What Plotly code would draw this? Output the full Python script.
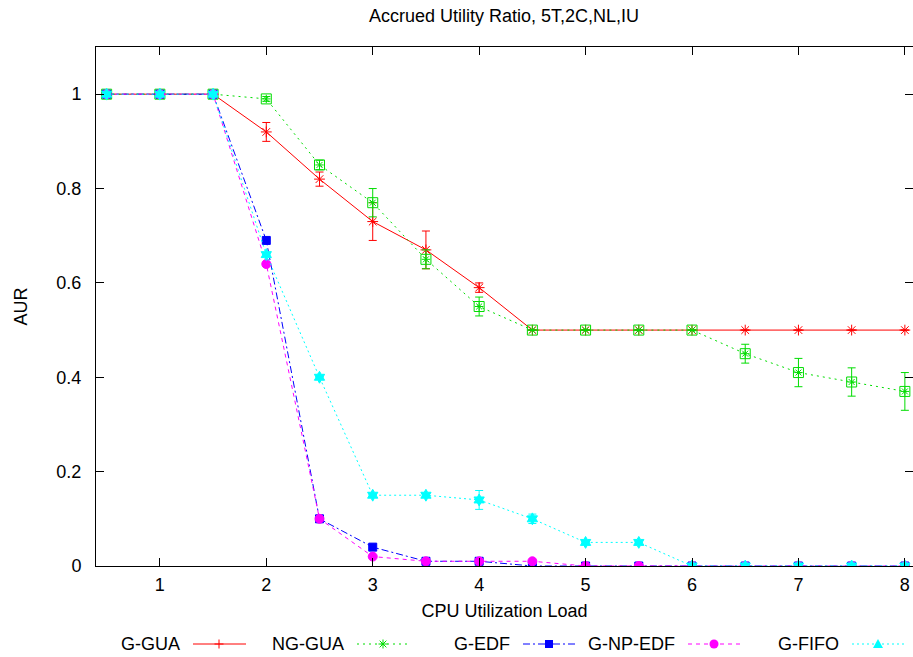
import plotly.graph_objects as go

# ---------------- data ----------------
load = [0.5, 1, 1.5, 2, 2.5, 3, 3.5, 4, 4.5, 5, 5.5, 6, 6.5, 7, 7.5, 8]

g_gua = [1, 1, 1, 0.92, 0.82, 0.73, 0.67, 0.59, 0.5, 0.5, 0.5, 0.5, 0.5, 0.5, 0.5, 0.5]
g_gua_err = [None, None, None, 0.02, 0.015, 0.04, 0.04, 0.01, None, None, None, None, None, None, None, None]

ng_gua = [1, 1, 1, 0.99, 0.85, 0.77, 0.65, 0.55, 0.5, 0.5, 0.5, 0.5, 0.45, 0.41, 0.39, 0.37]
ng_gua_err = [None, None, None, 0.005, 0.01, 0.03, 0.02, 0.02, None, None, None, None, 0.02, 0.03, 0.03, 0.04]

g_edf = [1, 1, 1, 0.69, 0.10, 0.04, 0.01, 0.01, 0, 0, 0, 0, 0, 0, 0, 0]
g_np_edf = [1, 1, 1, 0.64, 0.10, 0.02, 0.01, 0.01, 0.01, 0, 0, 0, 0, 0, 0, 0]

g_fifo = [1, 1, 1, 0.66, 0.40, 0.15, 0.15, 0.14, 0.10, 0.05, 0.05, 0, 0, 0, 0, 0]
g_fifo_err = [None, None, None, None, None, None, None, 0.02, 0.01, None, None, None, None, None, None, None]

x_ticks = [1, 2, 3, 4, 5, 6, 7, 8]
y_ticks = [0, 0.2, 0.4, 0.6, 0.8, 1]
y_tick_text = ["0", "0.2", "0.4", "0.6", "0.8", "1"]

names = ["G-GUA", "NG-GUA", "G-EDF", "G-NP-EDF", "G-FIFO"]
colors = ["#ff0000", "#00dd00", "#0000ff", "#ff00ff", "#00ffff"]
dashes = ["solid", "2px,4px", "7px,3px,2px,3px", "4px,4px", "2px,3px"]

FONT = "Liberation Sans, Arial, Helvetica, sans-serif"

# ---------------- layout geometry (pixels) ----------------
W, H = 913, 657
L, R, T, B = 96, 913, 47, 566


def px(xp):
    return (xp - L) / (R - L)


def py(yp):
    return (B - yp) / (B - T)


fig = go.Figure()

series = [
    (g_gua, g_gua_err, "asterisk-open", 9),
    (ng_gua, ng_gua_err, "square-open", 10),
    (g_edf, None, "square", 8),
    (g_np_edf, None, "circle", 9),
    (g_fifo, g_fifo_err, "hexagram", 9),
]

for i, (vals, err, sym, size) in enumerate(series):
    c = colors[i]
    tr = dict(
        x=load, y=vals, mode="lines+markers", name=names[i],
        line=dict(color=c, width=1, dash=dashes[i]),
        marker=dict(symbol=sym, size=size, color=c, line=dict(color=c, width=1)),
        showlegend=False,
    )
    if err is not None:
        tr["error_y"] = dict(type="data", array=err, visible=True, color=c,
                             thickness=1, width=4)
    fig.add_trace(go.Scatter(**tr))
    if i == 1:
        # inner asterisk of the NG-GUA point style
        fig.add_trace(go.Scatter(x=load, y=vals, mode="markers", showlegend=False,
                                 marker=dict(symbol="asterisk-open", size=7,
                                             color=c, line=dict(color=c, width=1))))

# ---------------- custom legend (text left of sample, gnuplot style) ----------------
shapes = []
annotations = []
text_right = [182, 346, 512, 677, 841]
ly = 644
for i, tx in enumerate(text_right):
    c = colors[i]
    annotations.append(dict(x=px(tx), y=py(ly), xref="paper", yref="paper",
                            text=names[i], showarrow=False, xanchor="right",
                            yanchor="middle", font=dict(family=FONT, size=18, color="black")))
    x0, x1 = tx + 11, tx + 64
    shapes.append(dict(type="line", xref="paper", yref="paper",
                       x0=px(x0), x1=px(x1), y0=py(ly), y1=py(ly),
                       line=dict(color=c, width=1, dash=dashes[i])))
    mx = tx + 37
    s = 4.5
    if i == 0:
        shapes.append(dict(type="line", xref="paper", yref="paper", x0=px(mx - s), x1=px(mx + s),
                           y0=py(ly), y1=py(ly), line=dict(color=c, width=1)))
        shapes.append(dict(type="line", xref="paper", yref="paper", x0=px(mx), x1=px(mx),
                           y0=py(ly - s), y1=py(ly + s), line=dict(color=c, width=1)))
    elif i == 1:
        for (dx, dy) in [(s, 0), (0, s), (s * 0.75, s * 0.75), (s * 0.75, -s * 0.75)]:
            shapes.append(dict(type="line", xref="paper", yref="paper",
                               x0=px(mx - dx), x1=px(mx + dx), y0=py(ly - dy), y1=py(ly + dy),
                               line=dict(color=c, width=1)))
    elif i == 2:
        shapes.append(dict(type="rect", xref="paper", yref="paper", x0=px(mx - 4), x1=px(mx + 4),
                           y0=py(ly + 4), y1=py(ly - 4), fillcolor=c, line=dict(color=c, width=0)))
    elif i == 3:
        shapes.append(dict(type="circle", xref="paper", yref="paper", x0=px(mx - 4.5), x1=px(mx + 4.5),
                           y0=py(ly + 4.5), y1=py(ly - 4.5), fillcolor=c, line=dict(color=c, width=0)))
    else:
        path = "M {} {} L {} {} L {} {} Z".format(px(mx - 5), py(ly + 4), px(mx + 5), py(ly + 4),
                                                  px(mx), py(ly - 5))
        shapes.append(dict(type="path", xref="paper", yref="paper", path=path,
                           fillcolor=c, line=dict(color=c, width=0)))

fig.update_layout(
    width=W, height=H,
    margin=dict(l=L, r=W - R, t=T, b=H - B, pad=0),
    paper_bgcolor="white", plot_bgcolor="white",
    font=dict(family=FONT, size=18, color="black"),
    title=dict(text="Accrued Utility Ratio, 5T,2C,NL,IU", x=px(504), xref="paper",
               y=1 - 16 / H, yref="container", xanchor="center", yanchor="middle",
               font=dict(family=FONT, size=18, color="black")),
    xaxis=dict(range=[0.4, 0.4 + (R - L) / 106.43], tickvals=x_ticks, ticks="inside",
               ticklen=8, tickcolor="black", tickwidth=1, showline=True, linecolor="black",
               linewidth=1, mirror="ticks", showgrid=False, zeroline=False,
               ticklabelstandoff=2,
               title=dict(text="CPU Utilization Load", standoff=10,
                          font=dict(family=FONT, size=18))),
    yaxis=dict(range=[0, 1.1], tickvals=y_ticks, ticktext=y_tick_text, ticks="inside",
               ticklen=8, tickcolor="black", tickwidth=1, showline=True, linecolor="black",
               linewidth=1, mirror="ticks", showgrid=False, zeroline=False,
               ticklabelstandoff=10,
               title=dict(text="AUR", standoff=24, font=dict(family=FONT, size=18))),
    shapes=shapes,
    annotations=annotations,
)

fig.write_html("out.html", config={"displayModeBar": False},
               post_script="document.body.style.margin='0px';")
